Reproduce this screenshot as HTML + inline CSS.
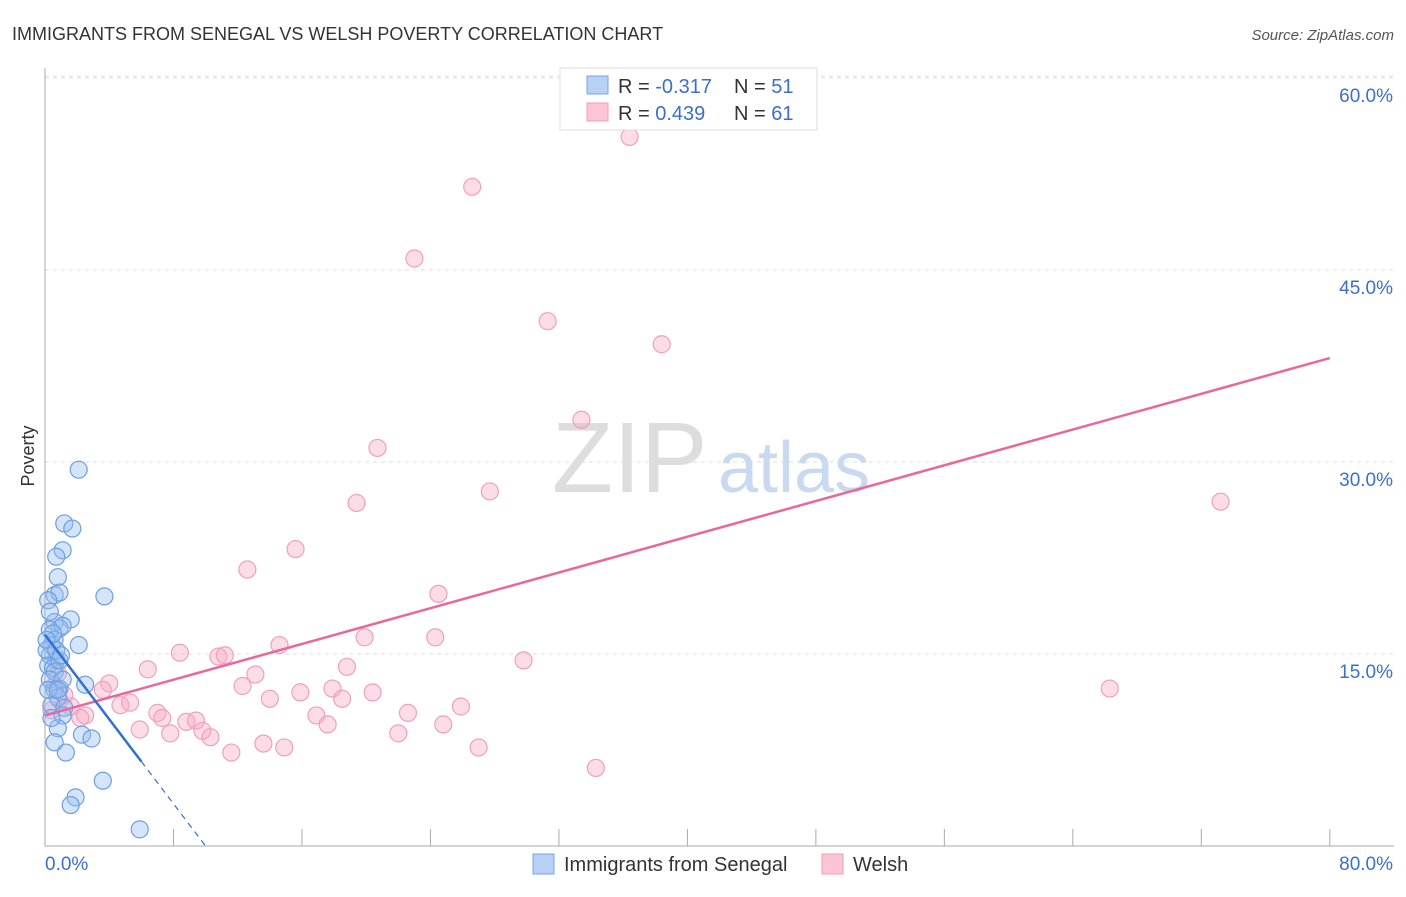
<!DOCTYPE html>
<html><head><meta charset="utf-8"><style>
body{margin:0;background:#fff;font-family:"Liberation Sans",sans-serif}
svg text{font-family:"Liberation Sans",sans-serif}
</style></head><body>
<svg id="c" width="1406" height="892">
<text x="12" y="40" font-size="18" fill="#333">IMMIGRANTS FROM SENEGAL VS WELSH POVERTY CORRELATION CHART</text>
<text x="1394" y="40" font-size="15" fill="#555" text-anchor="end" font-style="italic">Source: ZipAtlas.com</text>
<text x="34" y="456" font-size="18" fill="#333" text-anchor="middle" transform="rotate(-90 34 456)">Poverty</text>
<text x="552" y="492" font-size="100" fill="#ddd" font-family="Liberation Serif">ZIP</text>
<text x="718" y="492" font-size="72" fill="#c9d9f0">atlas</text>
<g id="grid"></g><g id="pts"></g><g id="lines"></g>
<g>
<rect x="560" y="68" width="257" height="62" fill="#fff" stroke="#ddd"/>
<rect x="587" y="76" width="21" height="18" fill="#b7d0f5" stroke="#7aa6e8"/>
<rect x="587" y="103" width="21" height="18" fill="#fbc5d5" stroke="#f09ab5"/>
<text x="618" y="93" font-size="20" fill="#333">R = <tspan fill="#3a6fd0">-0.317</tspan></text>
<text x="734" y="93" font-size="20" fill="#333">N = <tspan fill="#3a6fd0">51</tspan></text>
<text x="618" y="120" font-size="20" fill="#333">R = <tspan fill="#3a6fd0"> 0.439</tspan></text>
<text x="734" y="120" font-size="20" fill="#333">N = <tspan fill="#3a6fd0">61</tspan></text>
</g>
<g>
<rect x="533" y="854" width="21" height="20" fill="#b7d0f5" stroke="#7aa6e8"/>
<text x="564" y="871" font-size="20" fill="#333">Immigrants from Senegal</text>
<rect x="822" y="854" width="21" height="20" fill="#fbc5d5" stroke="#f09ab5"/>
<text x="853" y="871" font-size="20" fill="#333">Welsh</text>
</g>
</svg>
<script>
const xTicks=[0,80];
const yTicks=[15,30,45,60];
const blueX=[2.1,1.2,1.7,1.1,0.7,0.8,0.6,0.9,3.7,1.6,0.6,0.9,0.3,1.1,2.1,0.6,0.4,0.3,0.7,0.2,0.5,0.6,0.3,2.5,0.9,0.6,0.8,0.4,1.2,1.1,0.8,2.3,2.9,0.6,1.3,3.6,1.9,1.6,5.9,0.2,0.3,0.1,0.4,0.9,0.2,1.1,0.5,0.1,0.7,1.0,0.8];
const blueY=[29.4,25.2,24.8,23.1,22.6,21.0,19.6,19.8,19.5,17.7,17.5,17.0,16.9,17.2,15.7,16.1,15.7,14.9,14.5,14.1,13.9,13.6,13.0,12.6,12.3,12.2,11.6,11.0,10.8,10.2,9.2,8.7,8.4,8.1,7.3,5.1,3.8,3.2,1.3,19.2,18.3,15.3,10.0,14.5,12.2,13.0,16.6,16.1,15.3,14.9,12.2];
const pinkX=[36.4,26.6,23.0,31.3,38.4,33.4,20.7,27.7,19.4,73.2,15.6,12.6,24.5,19.9,24.3,14.6,8.4,10.8,11.2,29.8,6.4,18.8,13.1,12.3,17.9,15.9,4.0,3.6,20.4,14.0,18.5,66.3,4.7,5.3,7.0,7.3,16.9,22.6,25.9,8.8,9.4,17.6,24.8,5.9,7.8,9.8,10.3,22.0,13.6,14.9,11.6,27.0,34.3,2.5,2.2,1.6,0.9,0.6,0.4,1.2,0.8];
const pinkY=[55.4,51.5,45.9,41.0,39.2,33.3,31.1,27.7,26.8,26.9,23.2,21.6,19.7,16.3,16.3,15.7,15.1,14.8,14.9,14.5,13.8,14.0,13.4,12.5,12.3,12.0,12.7,12.2,12.0,11.5,11.5,12.3,11.0,11.2,10.4,10.0,10.2,10.4,10.9,9.7,9.8,9.5,9.5,9.1,8.8,9.0,8.5,8.8,8.0,7.7,7.3,7.7,6.1,10.2,10.0,10.9,11.4,12.5,10.6,11.8,13.5];
const blueFit=[16.5,-1.65];
const pinkFit=[10.2,0.349];
const X=v=>45+v*16.06, Y=v=>846-v*12.8;
const NS="http://www.w3.org/2000/svg";
function mk(t,a,p){const e=document.createElementNS(NS,t);for(const k in a)e.setAttribute(k,a[k]);p.appendChild(e);return e;}
const g=document.getElementById('grid');
yTicks.forEach(t=>{const l=mk('line',{x1:45,x2:1394,y1:Y(t),y2:Y(t),stroke:'#ddd','stroke-dasharray':'4,4'},g);

const tx=mk('text',{x:1393,y:Y(t)+24,'font-size':19,fill:'#3a6fd0','text-anchor':'end'},g);tx.textContent=t.toFixed(1)+'%';
});
const gl=mk('line',{x1:45,x2:1394,y1:Y(60)-2,y2:Y(60)-2,stroke:'#ddd','stroke-dasharray':'4,4'},g);
const ax=mk('line',{x1:45,x2:45,y1:68,y2:846,stroke:'#aaa'},g);
const bx=mk('line',{x1:45,x2:1394,y1:846,y2:846,stroke:'#aaa'},g);
for(let i=1;i<=10;i++){const tk=mk('line',{x1:X(i*8),x2:X(i*8),y1:846,y2:829,stroke:'#aaa'},g);}
xTicks.forEach((t,i)=>{const tx=mk('text',{x:i?1393:45,y:870,'font-size':19,fill:'#3a6fd0','text-anchor':i?'end':'start'},g);tx.textContent=t.toFixed(1)+'%';
});
const p=document.getElementById('pts');
pinkX.forEach((v,i)=>{const c=mk('circle',{cx:X(v),cy:Y(pinkY[i]),r:8.5,fill:'rgba(248,170,195,0.4)',stroke:'#f0a0b8','stroke-width':1.2},p);
});
blueX.forEach((v,i)=>{const c=mk('circle',{cx:X(v),cy:Y(blueY[i]),r:8.5,fill:'rgba(150,190,240,0.4)',stroke:'#6f9fe0','stroke-width':1.2},p);
});
const L=document.getElementById('lines');
const pl=mk('line',{x1:X(0),y1:Y(pinkFit[0]),x2:X(80),y2:Y(pinkFit[0]+pinkFit[1]*80),stroke:'#e8689a','stroke-width':2.5},L);

const bl=mk('line',{x1:X(0),y1:Y(blueFit[0]),x2:X(6),y2:Y(blueFit[0]+blueFit[1]*6),stroke:'#2f6fd6','stroke-width':2.5},L);

const xe=-blueFit[0]/blueFit[1];
const bd=mk('line',{x1:X(6),y1:Y(blueFit[0]+blueFit[1]*6),x2:X(xe),y2:Y(0),stroke:'#2f6fd6','stroke-width':1.2,'stroke-dasharray':'6,5'},L);

</script>
</body></html>
